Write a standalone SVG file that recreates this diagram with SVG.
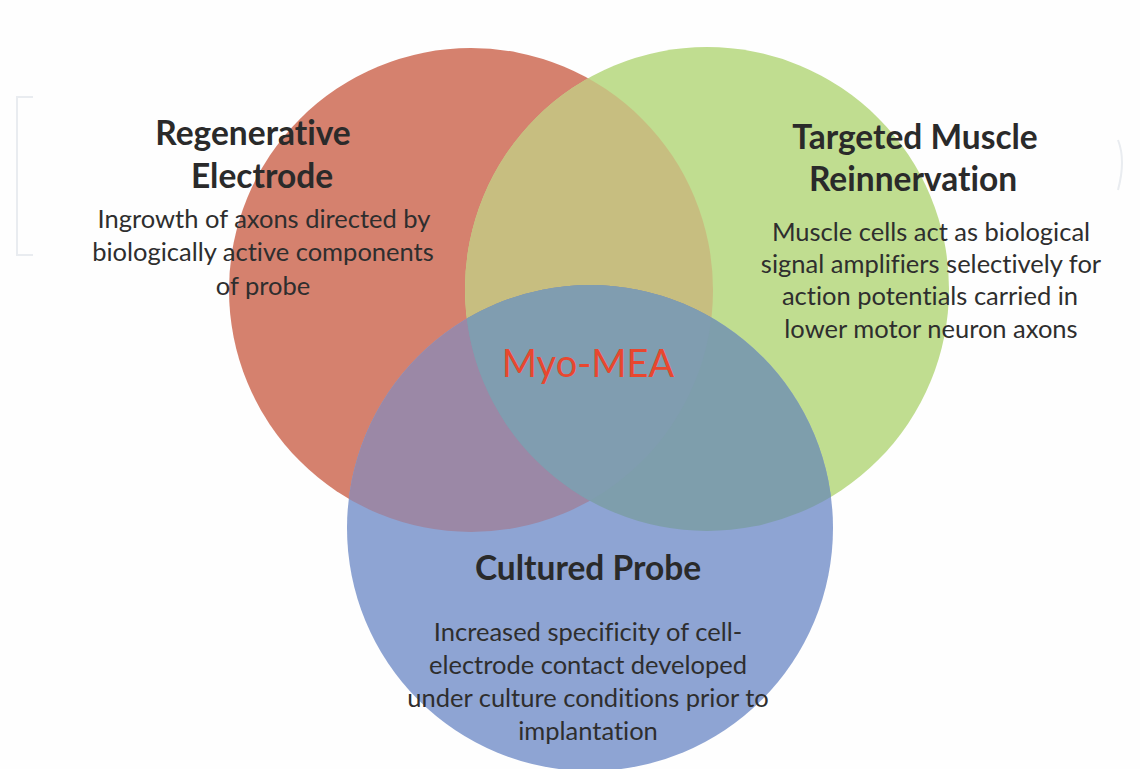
<svg xmlns="http://www.w3.org/2000/svg" width="1140" height="769" viewBox="0 0 1140 769">
<style>
text{font-variant-ligatures:none;font-feature-settings:"liga" 0,"dlig" 0}
.t{font-family:Lato,"Liberation Sans",sans-serif;font-weight:bold;font-size:33.5px;fill:#2a2a2a;text-anchor:middle}
.b{font-family:Lato,"Liberation Sans",sans-serif;font-size:25.5px;fill:#2e2e2e;text-anchor:middle}
.m{font-family:Lato,"Liberation Sans",sans-serif;font-size:38px;fill:#e8472f;text-anchor:middle}
.wm{fill:none;stroke:#e9ecf0;stroke-width:2}
</style>
<defs>
<clipPath id="cR"><circle cx="471" cy="290" r="242"/></clipPath>
<clipPath id="cG"><circle cx="707" cy="289" r="242"/></clipPath>
<clipPath id="cB"><circle cx="590" cy="528" r="243"/></clipPath>
</defs>
<rect width="1140" height="769" fill="#fefefe"/>
<path class="wm" d="M33,97 H17 V255 H33"/>
<path class="wm" d="M1118,140 Q1126,160 1118,190"/>
<g id="regenerative-electrode-circle"><circle cx="471" cy="290" r="242" fill="#d5816e"/></g>
<g id="targeted-muscle-reinnervation-circle"><circle cx="707" cy="289" r="242" fill="#c0dd90"/></g>
<g id="cultured-probe-circle"><circle cx="590" cy="528" r="243" fill="#8ea4d3"/></g>
<g id="overlaps">
<circle cx="707" cy="289" r="242" fill="#c7be80" clip-path="url(#cR)"/>
<circle cx="590" cy="528" r="243" fill="#9b88a6" clip-path="url(#cR)"/>
<circle cx="590" cy="528" r="243" fill="#7e9eac" clip-path="url(#cG)"/>
<g clip-path="url(#cR)"><circle cx="590" cy="528" r="243" fill="#809db0" clip-path="url(#cG)"/></g>
</g>
<g id="regenerative-electrode">
<text class="t" x="253" y="145">Regenerative</text>
<text class="t" x="262" y="188">Electrode</text>
<text class="b" x="264" y="228">Ingrowth of axons directed by</text>
<text class="b" x="263" y="261">biologically active components</text>
<text class="b" x="263" y="295">of probe</text>
</g>
<g id="targeted-muscle-reinnervation">
<text class="t" x="915" y="149">Targeted Muscle</text>
<text class="t" x="913" y="191">Reinnervation</text>
<text class="b" x="931" y="241">Muscle cells act as biological</text>
<text class="b" x="931" y="273">signal amplifiers selectively for</text>
<text class="b" x="930" y="305">action potentials carried in</text>
<text class="b" x="931" y="338">lower motor neuron axons</text>
</g>
<g id="myo-mea">
<text class="m" x="588" y="377">Myo-MEA</text>
</g>
<g id="cultured-probe">
<text class="t" x="588" y="580">Cultured Probe</text>
<text class="b" x="588" y="641">Increased specificity of cell-</text>
<text class="b" x="588" y="674">electrode contact developed</text>
<text class="b" x="588" y="707">under culture conditions prior to</text>
<text class="b" x="588" y="740">implantation</text>
</g>
</svg>
